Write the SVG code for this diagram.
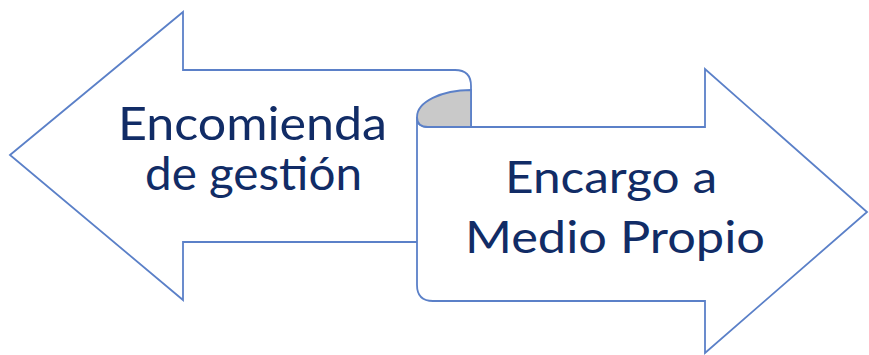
<svg xmlns="http://www.w3.org/2000/svg" width="869" height="355" viewBox="0 0 869 355">
<style>
.shape{fill:#ffffff;stroke:#5b80c8;stroke-width:1.8;stroke-linejoin:miter}
.curl{fill:#c9c9c9;stroke:#5b80c8;stroke-width:1.8}
.lbl{font-family:Lato,"Open Sans","Liberation Sans",sans-serif;fill:#112c66}
</style>
<rect width="869" height="355" fill="#ffffff"/>
<g id="encomienda">
<path class="shape" d="M10,155 L183,12 L183,70 L455,70 Q471,70 471,86 L471,242 L183,242 L183,300 Z"/>
<text class="lbl" x="118" y="140" font-size="46" textLength="269" lengthAdjust="spacingAndGlyphs">Encomienda</text>
<text class="lbl" x="145" y="190" font-size="46" textLength="217" lengthAdjust="spacingAndGlyphs">de gestión</text>
</g>
<g id="encargo">
<path class="shape" d="M417,117 Q417,127 428,127 L705,127 L705,69 L867,212 L705,353 L705,301 L433,301 Q417,301 417,285 Z"/>
<path class="curl" d="M417,117 A54,27 0 0 1 471,90 L471,127 L428,127 Q417,127 417,117 Z"/>
<text class="lbl" x="505" y="193" font-size="44" textLength="212" lengthAdjust="spacingAndGlyphs">Encargo a</text>
<text class="lbl" x="465" y="253" font-size="44" textLength="300" lengthAdjust="spacingAndGlyphs">Medio Propio</text>
</g>
<g id="connectors"></g>
</svg>
